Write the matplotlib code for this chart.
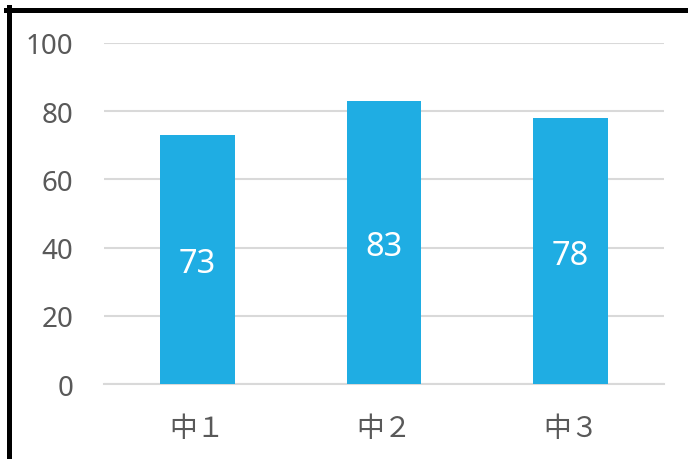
import matplotlib.pyplot as plt
from matplotlib.lines import Line2D

plt.rcParams['font.family'] = ['Noto Sans', 'Noto Sans CJK JP', 'DejaVu Sans']

# data
grades = ['中１', '中２', '中３']
scores = [73, 83, 78]
yticks = [0, 20, 40, 60, 80, 100]

bar_color = '#1FADE3'
text_color = '#595959'
grid_color = '#D9D9D9'

W, H = 688, 460
fig = plt.figure(figsize=(W / 100, H / 100), dpi=100)
ax = fig.add_axes([104 / W, 1 - 385 / H, 560 / W, 341 / H])

x = range(len(grades))
bars = ax.bar(x, scores, width=0.4, color=bar_color, zorder=3)

# value labels in the middle of each bar
for b, v in zip(bars, scores):
    ax.annotate(str(v), (b.get_x() + b.get_width() / 2, v / 2), xytext=(0, -3),
                textcoords='offset points', ha='center', va='center',
                color='white', fontsize=23.5)

ax.set_xlim(-0.5, len(grades) - 0.5)
ax.set_ylim(0, 100)
ax.set_yticks(yticks)
ax.set_xticks(list(x))
ax.set_xticklabels(grades)
ax.tick_params(axis='y', length=0, pad=22, labelsize=20, labelcolor=text_color)
ax.tick_params(axis='x', length=0, pad=22, labelsize=20, labelcolor=text_color)

ax.grid(axis='y', color=grid_color, linewidth=1.5, zorder=0)
for s in ['top', 'right', 'left']:
    ax.spines[s].set_visible(False)
ax.spines['bottom'].set_color(grid_color)
ax.spines['bottom'].set_linewidth(1.5)

# black frame, cut off at right and bottom
fig.add_artist(Line2D([6 / W, 1], [1 - 10.5 / H, 1 - 10.5 / H], color='black', linewidth=3.6))
fig.add_artist(Line2D([8.5 / W, 8.5 / W], [0, 1 - 8 / H], color='black', linewidth=3.6))

fig.savefig('out.png', dpi=100)
